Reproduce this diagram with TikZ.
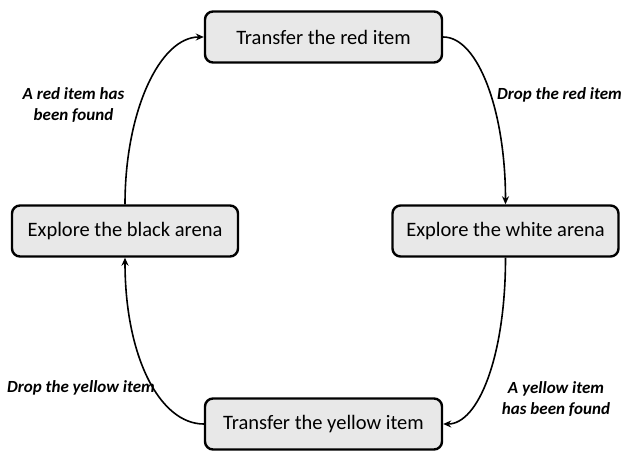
\documentclass[tikz,border=0pt]{standalone}
\usepackage{fontspec}
\setmainfont{Carlito}
\usetikzlibrary{arrows.meta}

\begin{document}
\begin{tikzpicture}[x=1pt, y=1pt,
  statebox/.style={draw, line width=2.4pt, rounded corners=8pt, fill=black!9,
    minimum height=51pt, font=\fontsize{20.5}{24}\selectfont},
  edgelabel/.style={font=\fontsize{17}{21}\selectfont\bfseries\itshape, align=center},
  flow/.style={line width=1.6pt, -{Stealth[length=8pt, width=7pt]}}]
%\draw [help lines, step=50] (0,0) grid (623,450);
\useasboundingbox (0,0) rectangle (623,450);

\node [statebox, minimum width=237pt] (red) at (323.5, 413) {Transfer the red item};
\node [statebox, minimum width=226pt] (black) at (125, 219) {Explore the black arena};
\node [statebox, minimum width=226pt] (white) at (505.5, 219) {Explore the white arena};
\node [statebox, minimum width=237pt] (yellow) at (323.5, 26) {Transfer the yellow item};

\draw [flow] (black.north) to [out=90, in=180, out distance=93pt, in distance=44pt] (red.west);
\draw [flow] (red.east) to [out=0, in=90, out distance=35pt, in distance=93pt] (white.north);
\draw [flow] (white.south) to [out=-90, in=0, out distance=99pt, in distance=35pt] (yellow.east);
\draw [flow] (yellow.west) to [out=180, in=-90, out distance=44pt, in distance=99pt] (black.south);

\node [edgelabel] (foundred) at (73.5, 345) {A red item has\\been found};
\node [edgelabel] (dropred) at (559.5, 355) {Drop the red item};
\node [edgelabel] (dropyellow) at (81, 62) {Drop the yellow item};
\node [edgelabel] (foundyellow) at (556, 51) {A yellow item\\has been found};

\end{tikzpicture}
\end{document}
